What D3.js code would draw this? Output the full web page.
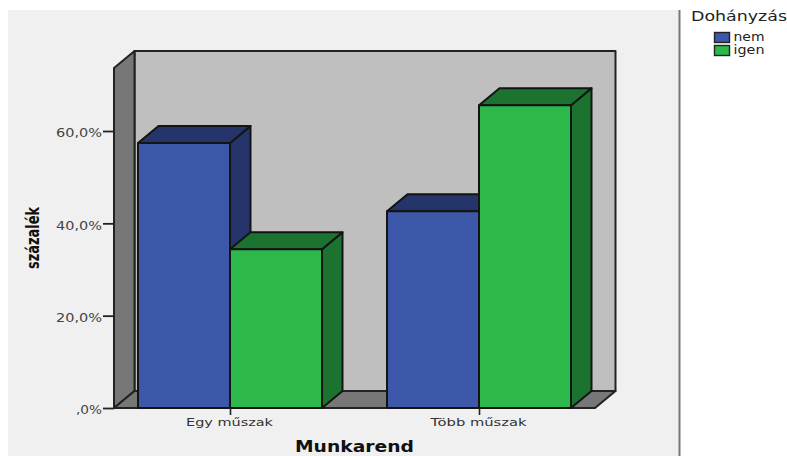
<!DOCTYPE html>
<html>
<head>
<meta charset="utf-8">
<style>
html,body{margin:0;padding:0;background:#fff}
svg{display:block}
text{font-family:"DejaVu Sans",sans-serif}
</style>
<script src="https://cdn.jsdelivr.net/npm/d3@7/dist/d3.min.js"></script>
</head>
<body>
<div id="chart"></div>
<script>
// Share of smokers and non-smokers by work schedule
const categories = ["Egy műszak", "Több műszak"];
const seriesNames = ["nem", "igen"];
const nemValues = [57.4, 42.6];
const igenValues = [34.4, 65.6];
const yTicks = [0, 20, 40, 60];
const yTickLabels = [",0%", "20,0%", "40,0%", "60,0%"];

const fills = {
  nem: {front: "#3d57a9", dark: "#25346b"},
  igen: {front: "#2db84b", dark: "#1c7330"}
};
const stroke = "#141414";

const svg = d3.select("#chart").append("svg").attr("width", 787).attr("height", 456);

svg.append("rect").attr("x", 8).attr("y", 10).attr("width", 671).attr("height", 446).attr("fill", "#f0f0f0");
svg.append("line").attr("x1", 679.5).attr("x2", 679.5).attr("y1", 10).attr("y2", 456)
  .attr("stroke", "#777").attr("stroke-width", 2);

// Scales for the front plane; depth is applied as a fixed oblique offset
const y = d3.scaleLinear().domain([0, 60]).range([408, 131]);
const x = d3.scaleBand().domain(categories).range([105.5, 603.5]).paddingInner(0).paddingOuter(0);
const xInner = d3.scaleBand().domain(seriesNames).range([-92, 92]);
const depth = {dx: 20.5, dy: -17};

const plot = {left: 114, right: 595, top: 68, bottom: 408};
const poly = pts => pts.map(p => p.join(",")).join(" ");
const g = svg.append("g");

// Stretch a text element horizontally to a set advance width
const stretch = (sel, len) => sel.attr("textLength", len).attr("lengthAdjust", "spacingAndGlyphs");

// Box walls
function wall(pts, fill) {
  g.append("polygon").attr("points", poly(pts)).attr("fill", fill)
    .attr("stroke", "#222").attr("stroke-width", 2).attr("stroke-linejoin", "round");
}
wall([[plot.left + depth.dx, plot.top + depth.dy], [plot.right + depth.dx, plot.top + depth.dy],
      [plot.right + depth.dx, plot.bottom + depth.dy], [plot.left + depth.dx, plot.bottom + depth.dy]], "#bfbfbf");
wall([[plot.left, plot.top], [plot.left + depth.dx, plot.top + depth.dy],
      [plot.left + depth.dx, plot.bottom + depth.dy], [plot.left, plot.bottom]], "#777777");
wall([[plot.left, plot.bottom], [plot.left + depth.dx, plot.bottom + depth.dy],
      [plot.right + depth.dx, plot.bottom + depth.dy], [plot.right, plot.bottom]], "#777777");

// Bars, drawn back to front within each category
const valuesBySeries = {nem: nemValues, igen: igenValues};
categories.forEach((c, ci) => {
  const centre = x(c) + x.bandwidth() / 2;
  seriesNames.forEach(s => {
    const x0 = centre + xInner(s);
    const x1 = x0 + xInner.bandwidth();
    const yt = y(valuesBySeries[s][ci]);
    const yb = y(0);
    const b = g.append("g").attr("stroke", stroke).attr("stroke-width", 2).attr("stroke-linejoin", "round");
    b.append("polygon").attr("fill", fills[s].dark)
      .attr("points", poly([[x1, yt], [x1 + depth.dx, yt + depth.dy], [x1 + depth.dx, yb + depth.dy], [x1, yb]]));
    b.append("polygon").attr("fill", fills[s].dark)
      .attr("points", poly([[x0, yt], [x0 + depth.dx, yt + depth.dy], [x1 + depth.dx, yt + depth.dy], [x1, yt]]));
    b.append("rect").attr("x", x0).attr("y", yt).attr("width", x1 - x0).attr("height", yb - yt).attr("fill", fills[s].front);
  });
});

// Value axis
const yAxis = svg.append("g").attr("transform", `translate(${plot.left},0)`)
  .call(d3.axisLeft(y).tickValues(yTicks).tickSize(11).tickPadding(1)
    .tickFormat((d, i) => yTickLabels[i]));
yAxis.select(".domain").remove();
yAxis.selectAll("line").attr("stroke", "#222").attr("stroke-width", 1.8);
yAxis.selectAll("text").attr("fill", "#444").style("font-size", "11.5px").attr("dy", "0.5em")
  .each(function (d, i) { stretch(d3.select(this), i === 0 ? 26 : 46); });

// Category axis
const categoryLabelWidths = [87, 96];
const xAxisScale = d3.scalePoint().domain(categories)
  .range(categories.map(c => x(c) + x.bandwidth() / 2));
const xAxis = svg.append("g").attr("transform", `translate(0,${plot.bottom})`)
  .call(d3.axisBottom(xAxisScale).tickSize(7).tickPadding(3));
xAxis.select(".domain").remove();
xAxis.selectAll("line").attr("stroke", "#222").attr("stroke-width", 1.6);
xAxis.selectAll("text").attr("fill", "#333").style("font-size", "11px").attr("dx", "-1")
  .each(function (d, i) { stretch(d3.select(this), categoryLabelWidths[i]); });

// Axis titles
stretch(svg.append("text").attr("x", 354.5).attr("y", 451.5).attr("text-anchor", "middle")
  .style("font-weight", "bold").style("font-size", "15.5px")
  .attr("fill", "#111").text("Munkarend"), 119);
stretch(svg.append("text").attr("transform", "translate(38.5,238) rotate(-90)")
  .attr("text-anchor", "middle")
  .style("font-weight", "bold").style("font-size", "17px")
  .attr("fill", "#111").text("százalék"), 62);

// Legend
stretch(svg.append("text").attr("x", 691).attr("y", 21)
  .style("font-size", "14px").attr("fill", "#222").text("Dohányzás"), 96);
const legend = d3.scaleBand().domain(seriesNames).range([31, 57]);
seriesNames.forEach(s => {
  svg.append("rect").attr("x", 714.5).attr("y", legend(s) + 1.5).attr("width", 15).attr("height", 10)
    .attr("fill", fills[s].front).attr("stroke", "#222").attr("stroke-width", 1.4);
  stretch(svg.append("text").attr("x", 733.5).attr("y", legend(s) + 10)
    .style("font-size", "11.5px").attr("fill", "#222").text(s), 31);
});
</script>
</body>
</html>
